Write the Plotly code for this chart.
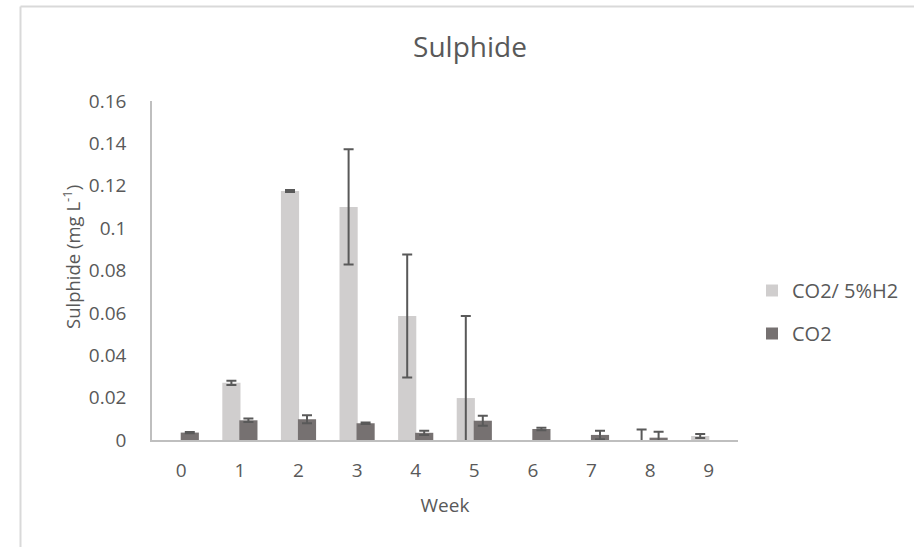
import plotly.graph_objects as go

weeks = ["0", "1", "2", "3", "4", "5", "6", "7", "8", "9"]

# CO2 / 5% H2 series: mean sulphide and error (None = no error bar)
h2_mean = [0.0, 0.027, 0.1175, 0.110, 0.0585, 0.0198, 0.0, 0.0, 0.0, 0.0019]
h2_err = [None, 0.001, 0.0005, 0.0272, 0.029, 0.0387, None, None, 0.005, 0.0009]

# CO2 series: mean sulphide and error
co2_mean = [0.0035, 0.0093, 0.0098, 0.0079, 0.0034, 0.0091, 0.0052, 0.0024, 0.0011, 0.0]
co2_err = [0.0003, 0.0008, 0.0019, 0.0004, 0.001, 0.0024, 0.0006, 0.002, 0.0028, None]


def drawn(means, errs):
    # a zero reading with no spread leaves nothing to draw at that week
    return [None if (m == 0 and e is None) else m for m, e in zip(means, errs)]


FONT = "Open Sans"
TXT = "#595959"
ERR = "#595959"
AXIS = "#bfbfbf"

x_idx = list(range(len(weeks)))

fig = go.Figure()
fig.add_trace(go.Bar(
    x=x_idx, y=drawn(h2_mean, h2_err), name="CO2/ 5%H2", legendgroup="a",
    marker=dict(color="#d0cece", line=dict(width=0)),
    width=0.31, offset=-0.30,
    error_y=dict(type="data", array=h2_err, visible=True,
                 color=ERR, thickness=2, width=5),
))
fig.add_trace(go.Bar(
    x=x_idx, y=drawn(co2_mean, co2_err), name="CO2", legendgroup="b",
    marker=dict(color="#767171", line=dict(width=0)),
    width=0.31, offset=-0.01,
    error_y=dict(type="data", array=co2_err, visible=True,
                 color=ERR, thickness=2, width=5),
))

L, R, T, B = 152, 176, 101, 107
W, H = 914, 547
pw, ph = W - L - R, H - T - B


def px_x(p):
    return (p - L) / pw


def px_y(p):
    return (H - B - p) / ph


fig.update_layout(
    width=W, height=H,
    margin=dict(l=L, r=R, t=T, b=B, autoexpand=False),
    paper_bgcolor="white", plot_bgcolor="white",
    barmode="overlay",
    font=dict(family=FONT, color=TXT, size=19),
    title=dict(text="Sulphide", x=470 / W, xref="container", xanchor="center",
               y=1 - 47 / H, yref="container", yanchor="middle",
               font=dict(size=28, color=TXT, family=FONT)),
    showlegend=True,
    legend=dict(x=px_x(752), y=px_y(271), xanchor="left", yanchor="top",
                font=dict(size=20, color=TXT, family=FONT),
                tracegroupgap=14, traceorder="grouped",
                itemwidth=30, bgcolor="rgba(0,0,0,0)"),
    xaxis=dict(
        tickmode="array", tickvals=x_idx, ticktext=weeks,
        range=[-0.5, 9.5],
        showline=True, linecolor=AXIS, linewidth=2,
        ticks="", showgrid=False, zeroline=False,
        tickfont=dict(size=19, color=TXT),
        ticklabelstandoff=12,
        title=dict(text="Week", font=dict(size=19, color=TXT), standoff=17),
    ),
    yaxis=dict(
        range=[0, 0.16], dtick=0.02, tick0=0,
        showline=True, linecolor=AXIS, linewidth=1.5,
        ticks="", showgrid=False, zeroline=False,
        tickfont=dict(size=19, color=TXT),
        ticklabelstandoff=20,
    ),
    annotations=[dict(
        text="Sulphide (mg L<sup>-1</sup>)", textangle=-90,
        x=px_x(71), y=px_y(257), xref="paper", yref="paper",
        xanchor="center", yanchor="middle", showarrow=False,
        font=dict(size=18.5, color=TXT, family=FONT),
    )],
    shapes=[
        dict(type="line", xref="paper", yref="paper",
             x0=px_x(20.5), x1=px_x(914), y0=px_y(6.5), y1=px_y(6.5),
             line=dict(color="#d9d9d9", width=2)),
        dict(type="line", xref="paper", yref="paper",
             x0=px_x(20.5), x1=px_x(20.5), y0=px_y(6.5), y1=px_y(547),
             line=dict(color="#d9d9d9", width=2)),
    ],
)

fig.write_html("out.html")
